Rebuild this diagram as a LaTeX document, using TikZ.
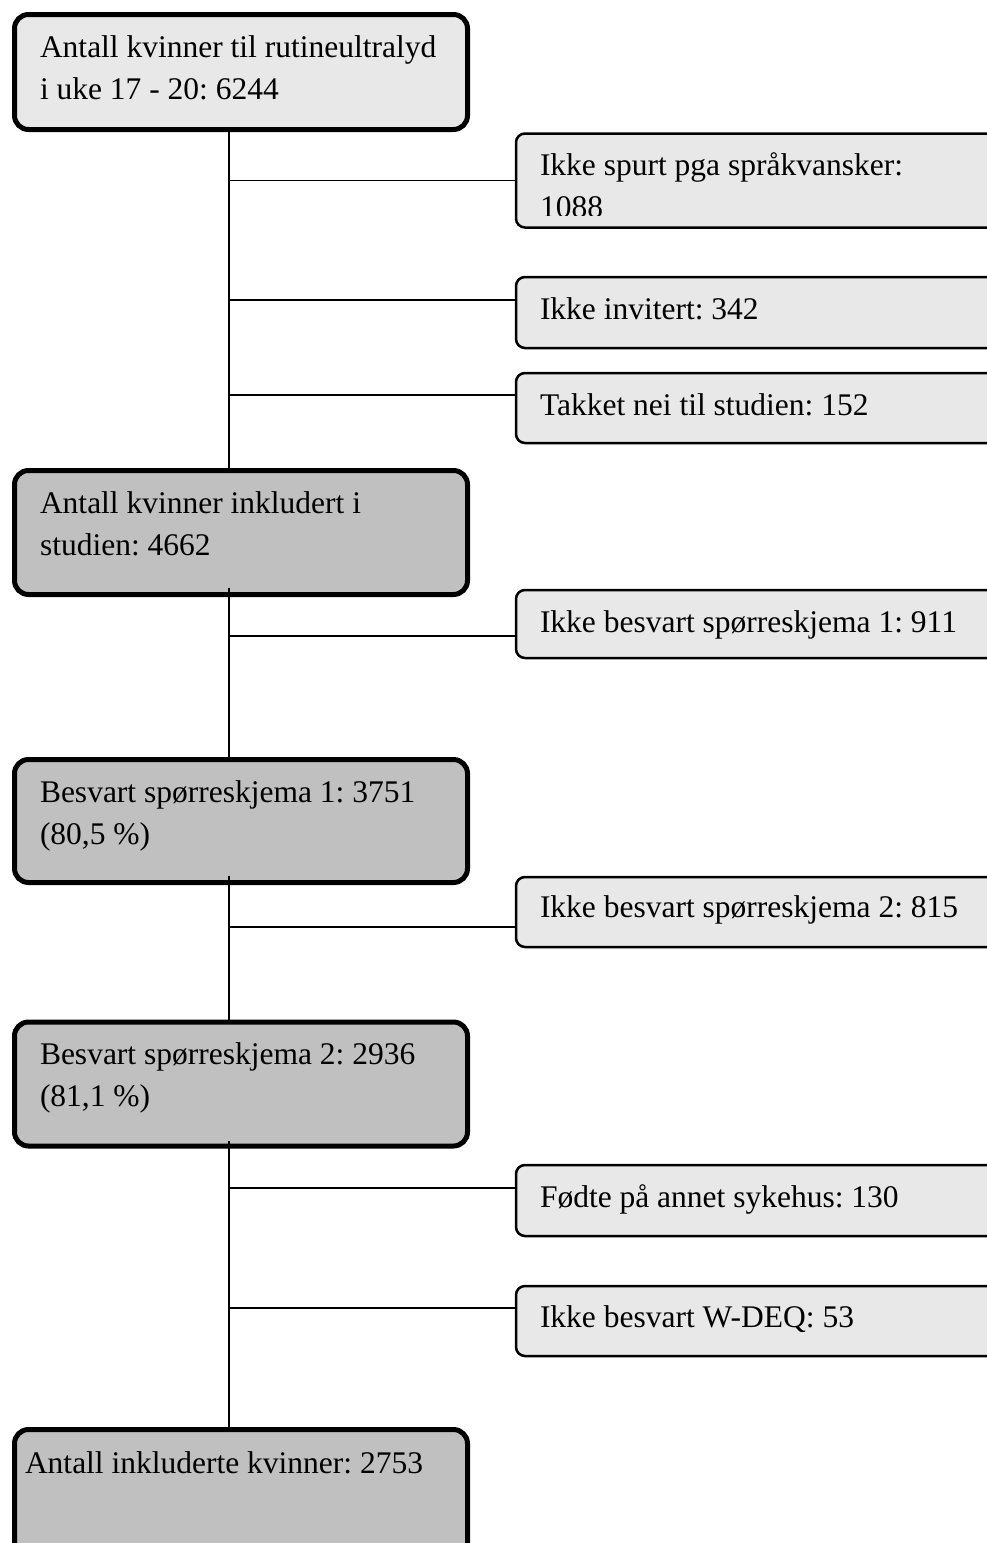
\documentclass[tikz,border=0pt]{standalone}
\usepackage{fontspec}
\setmainfont{Liberation Serif}
\frenchspacing
\definecolor{boxlight}{HTML}{E8E8E8}
\definecolor{boxdark}{HTML}{C0C0C0}
\begin{document}
\frenchspacing
\begin{tikzpicture}[x=1pt,y=-1pt,
  mainbox/.style={draw=black, line width=5pt, rounded corners=14pt, inner sep=0pt, outer sep=0pt, minimum width=453pt},
  sidebox/.style={draw=black, line width=2.5pt, fill=boxlight, rounded corners=9pt, inner sep=0pt, outer sep=0pt, minimum width=494pt},
  lbl/.style={anchor=base west, inner sep=0pt, outer sep=0pt, align=left, font=\fontsize{31.5}{42}\selectfont\frenchspacing},
  link/.style={draw=black, line width=1.8pt}]
\clip (0,0) rectangle (987,1543);
\fill[white] (0,0) rectangle (987,1543);
% main boxes
\node[mainbox, fill=boxlight, minimum height=115pt] (b1) at (241,72) {};
\node[mainbox, fill=boxdark, minimum height=124pt] (b2) at (241,532.5) {};
\node[mainbox, fill=boxdark, minimum height=123pt] (b3) at (241,821) {};
\node[mainbox, fill=boxdark, minimum height=124pt] (b4) at (241,1084) {};
\node[mainbox, fill=boxdark, minimum height=131pt] (b5) at (241,1495) {};
% side boxes
\node[sidebox, minimum height=94pt] (s1) at (763,180.5) {};
\node[sidebox, minimum height=71pt] (s2) at (763,312.5) {};
\node[sidebox, minimum height=70pt] (s3) at (763,408) {};
\node[sidebox, minimum height=68pt] (s4) at (763,624) {};
\node[sidebox, minimum height=70pt] (s5) at (763,912) {};
\node[sidebox, minimum height=71pt] (s6) at (763,1200.5) {};
\node[sidebox, minimum height=70pt] (s7) at (763,1321) {};
% texts (base anchor = baseline of last line)
\node[lbl] (t1) at (40,99) {Antall kvinner til rutineultralyd\\i uke 17 - 20: 6244};
\node[lbl] (t2) at (40,555) {Antall kvinner inkludert i\\studien: 4662};
\node[lbl] (t3) at (40,844) {Besvart spørreskjema 1: 3751\\(80,5 \%)};
\node[lbl] (t4) at (40,1106) {Besvart spørreskjema 2: 2936\\(81,1 \%)};
\node[lbl] (t5) at (25,1473) {Antall inkluderte kvinner: 2753};
\begin{scope}
\clip (518,136) rectangle (1000,215);
\node[lbl] (u1) at (540,217) {Ikke spurt pga språkvansker:\\1088};
\end{scope}
\node[lbl] (u2) at (540,319) {Ikke invitert: 342};
\node[lbl] (u3) at (540,415) {Takket nei til studien: 152};
\node[lbl] (u4) at (540,632) {Ikke besvart spørreskjema 1: 911};
\node[lbl] (u5) at (540,917) {Ikke besvart spørreskjema 2: 815};
\node[lbl] (u6) at (540,1207) {Fødte på annet sykehus: 130};
\node[lbl] (u7) at (540,1327) {Ikke besvart W-DEQ: 53};
% spine
\coordinate (sp) at (229,0);
\path ([yshift=7pt]b2.south) coordinate (b2s);
\path ([yshift=7pt]b3.south) coordinate (b3s);
\path ([yshift=5pt]b4.south) coordinate (b4s);
\draw[link] (b1.south -| sp) -- (b2.north -| sp);
\draw[link] (b2s -| sp) -- (b3.north -| sp);
\draw[link] (b3s -| sp) -- (b4.north -| sp);
\draw[link] (b4s -| sp) -- (b5.north -| sp);
% branches
\path (s1.west) coordinate (j1);
\path ([yshift=12.5pt]s2.west) coordinate (j2);
\path ([yshift=13pt]s3.west) coordinate (j3);
\path ([yshift=-12pt]s4.west) coordinate (j4);
\path ([yshift=-15pt]s5.west) coordinate (j5);
\path ([yshift=12.5pt]s6.west) coordinate (j6);
\path ([yshift=13pt]s7.west) coordinate (j7);
\foreach \j in {j1,j2,j3,j4,j5,j6,j7} {
  \draw[link] (\j -| sp) -- (\j);
}
\end{tikzpicture}
\end{document}
